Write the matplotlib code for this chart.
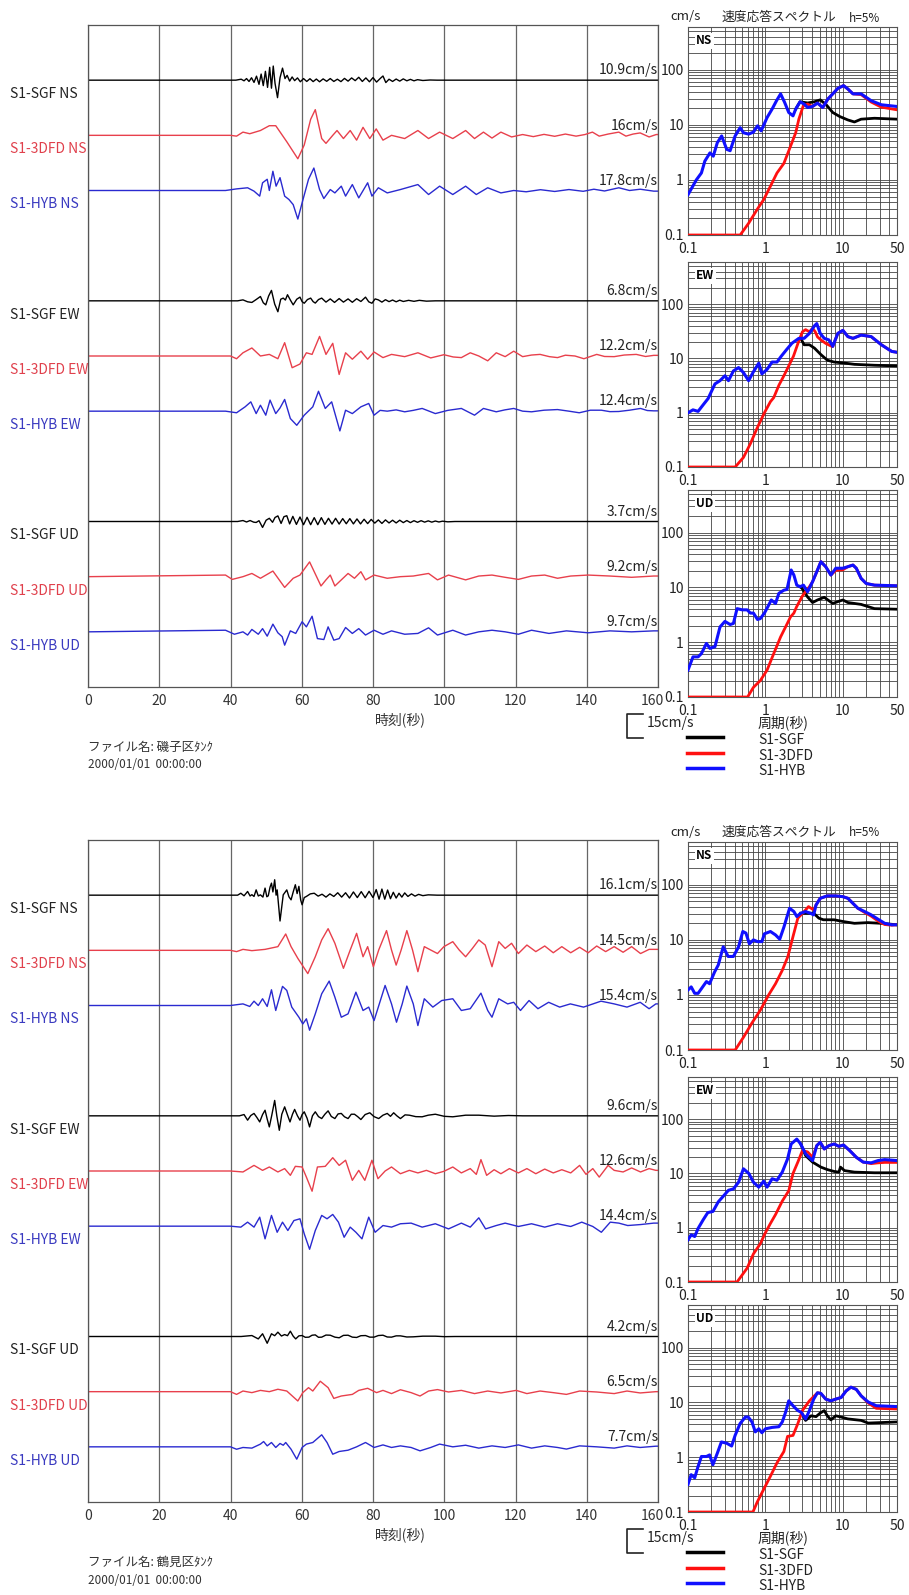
import matplotlib
matplotlib.use("Agg")
import matplotlib.pyplot as plt
from matplotlib.lines import Line2D
from matplotlib.transforms import ScaledTranslation

plt.rcParams['font.family'] = ['Noto Sans CJK JP', 'DejaVu Sans']

# ---- waveform data: (time s, velocity cm/s) ----
p1_sgf_ns = [(41.5,0),(43,0.6),(43.8,-0.4),(44.5,1.0),(45.2,-0.8),(45.9,1.5),(46.6,-1.4),(47.3,2.5),(48,-2.6),(48.6,3.8),(49.2,-3.4),(49.8,5.5),(50.4,-4.5),(51,8.0),(51.5,-5.0),(52,8.8),(52.5,-2.0),(53.2,-10.9),(53.9,1.5),(54.6,7.5),(55.3,1.0),(55.9,3.0),(56.6,-0.6),(57.3,2.0),(58,-0.3),(58.8,1.4),(59.6,-1.0),(60.5,1.0),(61.4,-0.8),(62.3,0.9),(63.2,-0.9),(64.1,0.7),(65,-1.0),(66,0.8),(67,-0.7),(68,1.0),(69,-0.8),(70,0.6),(71,-0.9),(72,1.1),(73,-0.6),(74,1.4),(75,-0.3),(76,1.8),(77,-0.8),(78,1.4),(79,-1.0),(80,1.6),(81,-1.2),(82,1.0),(82.8,2.6),(83.6,-1.5),(84.5,0.6),(85.5,-0.8),(86.5,0.7),(87.5,-0.6),(88.5,0.8),(89.5,-0.4),(90.5,0.5),(91.5,-0.4),(92.5,0.3),(94,-0.2),(96,0.1),(98,0)]
p1_fd_ns = [(40,0),(41.7,-0.5),(43.5,2),(45.4,1),(48.4,3),(50.9,6),(52.7,6),(55.8,-4),(58.9,-14.6),(60.7,-6),(62.5,10),(63.8,16),(65.6,-2),(66.8,-5),(68.7,0),(69.9,3),(71.7,-2),(73.6,3),(75.4,-3),(77.2,5),(79.1,-2),(80.9,4),(82.8,-3),(85.2,0),(88.9,-2),(92.6,3),(95.6,-2),(98.7,2),(102.4,-2),(106,3),(108.5,-2),(111,2),(113.4,-1.7),(115.9,2),(118.9,-1),(122,0.5),(125,-0.8),(128,0.6),(131,-0.6),(134,0.8),(137,-0.5),(139.5,0.5),(141.6,2),(143.5,-0.5),(146,0.8),(149,2),(151,-0.5),(153,0.8),(155,1.5),(157.5,-1),(159.5,0.5)]
p1_hyb_ns = [(38.6,0),(41.7,1),(44.8,1.7),(46.6,-0.4),(48.2,-3.5),(49,4.8),(50.3,7),(50.9,0),(51.9,12),(52.8,2.7),(53.9,8),(55.2,-3.5),(56.4,-5.6),(57.6,-8.8),(58.9,-17.8),(60.1,-7.7),(61.9,7),(63.4,14),(65,0.6),(66.2,-5),(68,0.6),(69.3,-1.5),(71.1,2.7),(72.3,-3.5),(74.2,3.7),(76,-4.6),(78.5,4.8),(79.7,-3.5),(81.5,1.7),(84,-1.5),(87.7,0.6),(92.6,3.7),(95.6,-2.5),(98.7,2.7),(102.4,-2.5),(106,2.7),(109,-2.5),(112.2,1.7),(115.9,-1.5),(119.5,0),(123,-0.8),(127,0.5),(131,-0.6),(135,0.6),(139,-0.5),(142,0.8),(145,-0.3),(149,1.7),(152,0),(155,0.8),(158.8,-0.4)]
p1_sgf_ew = [(42,0),(43.5,0.6),(44.8,-0.6),(46,-1.0),(47.2,0.8),(48.4,2.7),(49.2,-1.2),(49.9,-2.5),(50.7,3.0),(51.5,6.5),(52.4,-2.0),(53.3,-6.8),(54.1,1.0),(54.8,1.7),(55.4,0.5),(56,3.8),(56.8,0.5),(57.6,-2.5),(58.6,1.0),(59.5,2.3),(60.1,-0.5),(60.7,-1.5),(61.6,0.8),(62.5,1.7),(63.2,-0.5),(63.8,-1.4),(64.7,0.8),(65.6,1.7),(66.8,-0.8),(68,1.2),(69.2,-1.0),(70.5,1.4),(71.7,-0.8),(73,1.2),(74.2,-0.9),(75.4,1.3),(76.6,-0.4),(77.9,2.3),(78.8,-0.6),(79.7,-1.5),(80.6,1.2),(81.5,0.6),(82.5,-0.8),(83.5,0.7),(84.5,-0.5),(85.5,0.5),(86.5,-0.6),(87.5,0.4),(88.5,-0.4),(90,0.3),(91.5,-0.3),(93,0.3),(95,-0.2),(97.5,0)]
p1_fd_ew = [(40,0),(41.7,-1.7),(43.5,2),(46,5),(48.4,0),(50.9,1),(53.3,-1.7),(55.2,8.3),(57.3,-7.3),(59.5,-5),(61.3,2),(62.9,1),(65,12.2),(66.8,1),(68.7,7.9),(70.5,-11.5),(72.3,2),(74.2,-2),(76.6,3),(78.5,-2),(80.3,2.5),(82.8,-1),(85.2,1),(88.9,-0.4),(92.6,2),(96.2,-1.2),(99.9,0.8),(102.5,-0.6),(104.8,-1),(107.3,2),(109.7,0),(112.2,-3),(114.6,2),(117.1,-0.4),(119.5,3),(122,-0.4),(124.5,0.6),(126.9,1),(129.5,-0.4),(131.8,-1),(134,0.5),(136.7,0),(139.2,-1.7),(142.8,1),(145,-0.3),(147.7,-0.4),(150.5,0.6),(153.9,1),(156.5,-0.3),(158.8,0.4)]
p1_hyb_ew = [(38.6,0),(41.7,-1),(44.1,2.7),(45.7,5.8),(47.2,-1.5),(48.4,3.7),(49.9,-2.5),(51.1,6.9),(52.7,-1.5),(53.9,2),(55.2,7.3),(56.8,-4.6),(58.6,-8.8),(60.7,-2.5),(63.1,2.7),(64.7,12.4),(66.6,1.7),(68.4,5.8),(70.7,-12.3),(72.3,0.6),(74.2,-1.5),(76.6,2.7),(78.8,4.8),(80.3,-2.5),(82,0.5),(84,0),(86.5,0.8),(88.9,-0.4),(91.3,0.5),(93.8,1.7),(97.5,-1.5),(101,0.5),(104.8,1.7),(108.5,-2.5),(111,1.7),(114.6,-0.4),(117,0.8),(119.5,1.7),(122,0),(124.5,-0.4),(128,0.6),(131.8,1),(135,0),(137.9,-1),(141,0.6),(144.1,0.6),(146.5,-0.3),(149,-0.2),(152,0.6),(155.1,1.7),(157,0.4),(158.8,0.2)]
p1_sgf_ud = [(42,0),(43.5,0.6),(44.5,-0.3),(45.5,0.6),(46.5,-0.4),(47.2,-0.6),(48,0.5),(49,-3.7),(50,0.8),(50.9,2.0),(51.8,-0.5),(52.5,2.5),(53.3,3.5),(54.2,-1.2),(55,3.0),(55.8,3.6),(56.6,-1.5),(57.5,3.2),(58.5,-1.8),(59.5,2.8),(60.5,-2.0),(61.5,2.6),(62.5,-2.0),(63.5,2.4),(64.5,-2.0),(65.5,2.4),(66.5,-1.8),(67.5,2.0),(68.5,-1.6),(69.5,2.0),(70.5,-1.6),(71.5,1.8),(72.5,-1.4),(73.5,1.8),(74.5,-1.5),(75.5,1.6),(76.5,-1.5),(77.5,1.4),(78.5,-1.3),(79.5,1.3),(80.5,-1.0),(81.5,1.0),(82.5,-1.2),(83.5,1.0),(84.5,-0.9),(85.5,0.8),(86.5,-0.9),(87.5,0.8),(88.5,-0.7),(89.5,0.6),(90.5,-0.7),(91.5,0.5),(92.5,-0.5),(93.5,0.5),(94.5,-0.4),(95.5,0.4),(96.5,-0.4),(97.5,0.3),(98.5,-0.3),(99.5,0.2),(101,-0.2),(103,0)]
p1_fd_ud = [(38.6,1),(40.5,-1.7),(43.5,0),(46,2),(48.4,-1),(51.9,3.5),(55.2,-6.7),(57.6,-1),(59.5,1),(62.2,9.2),(65.4,-5.8),(66.8,-2),(68,1),(69.3,-5.8),(71.1,-2),(73,2),(74.8,-1),(76.6,3.1),(77.9,-2),(80.3,1),(84,-1),(87.7,0),(91.3,0.4),(95.6,2),(98.1,-2),(101.2,1),(106,-2),(109.7,0.4),(113.4,1),(117.1,-0.4),(120.8,-1.7),(124.5,0.4),(128.2,1),(131.8,-1),(135.5,0.4),(140.4,1),(146.5,0.4),(152.6,-0.4),(158.8,0.4)]
p1_hyb_ud = [(38.6,1),(41.1,-1.5),(43.5,0),(44.8,-2),(46,1.5),(47.8,-1.5),(49,2),(50.3,-2.7),(51.9,4.8),(53.3,-0.6),(54.5,-3),(55.2,-8.3),(56.8,0.6),(58.3,-1),(60.1,6.3),(61.3,3.1),(62.9,9.7),(64.4,-4.2),(66.2,-4.8),(67.4,3.1),(69,-5.2),(70.5,-4.2),(72.3,2.7),(74.2,-1),(76,2),(77.9,-2),(80.3,1),(82.8,-1.5),(85.2,0.6),(88.9,-1.5),(92.6,-1),(95.6,2.5),(98.1,-2),(102.4,1),(106,-2),(109.7,0),(113.4,1),(117.1,0),(120.8,-1.5),(124.5,1),(129.4,-1),(134.3,0.6),(140.4,-0.6),(146.5,0.6),(152.6,0),(158.8,0.6)]

p2_sgf_ns = [(42,0),(42.9,1.2),(43.8,-0.4),(44.8,2.3),(45.5,-0.5),(46,0.3),(46.6,-0.8),(47.2,3.3),(47.8,-0.5),(48.4,0.2),(49.1,-1.2),(49.7,4.4),(50.2,-1.0),(50.6,-0.4),(51.1,5),(51.5,7.5),(51.9,2),(52.4,9.6),(52.8,0),(53.1,3.3),(53.9,-16.1),(54.8,0.2),(55.8,3.3),(56.4,-1),(57,-2.9),(57.6,2),(58.2,6.5),(58.7,1),(59.2,5.5),(59.7,-3),(60.1,-6),(60.7,-1.5),(61.3,-0.8),(62.4,0.8),(63.5,1.2),(64.6,-0.6),(65.7,0.6),(66.8,-1.2),(67.9,0.8),(69,-0.8),(70.1,1.5),(71.2,-1.2),(72.3,1.5),(73.4,-1.8),(74.5,2.0),(75.6,-1.5),(76.7,2.2),(77.8,-1.6),(78.9,2.4),(80,-1.5),(80.9,3.5),(81.7,-2.5),(82.5,3.8),(83.3,-2.5),(84.1,3.2),(84.9,-2.2),(85.7,1.8),(86.5,-1.8),(87.3,1.2),(88.1,-1.2),(88.9,1.4),(89.8,-0.8),(90.8,0.8),(91.8,-0.6),(92.8,0.5),(94,-0.3),(95.5,0.2),(98,0)]
p2_fd_ns = [(40,0),(41.7,-0.8),(43.5,0.6),(46,-0.2),(49.7,0.6),(53.3,2.3),(55.5,10.2),(57,2.3),(58.9,-5),(61.7,-14.5),(63.8,-4),(65.6,6.5),(67.4,13.5),(69.3,4.4),(71.7,-11.2),(73.6,0.2),(75.4,10.6),(77.2,-4),(78.5,2.3),(80.1,-10.2),(81.6,0.2),(83.8,12.3),(85.2,0.2),(86.5,-9.2),(87.9,0.2),(89.5,12.3),(91.1,0.2),(92.6,-13.3),(94.4,2.3),(96.2,0.2),(98.1,-2),(99.9,2.3),(102.4,5.4),(104.2,0.2),(106,-4),(107.9,1.2),(109.7,6.5),(111.5,3.3),(113.4,-10.2),(115.3,5.4),(117.1,1.2),(118.9,4.4),(120.8,-2),(123.2,3.3),(125.7,-0.8),(128.2,2.7),(130.6,-1.5),(133,2.3),(135.5,-1.5),(138,1.9),(140.4,-1.5),(142.8,2.7),(145.3,-0.8),(147.7,2.3),(150.2,-1.2),(152.6,2.3),(155.1,-2),(157.5,0.6),(159.4,0.6)]
p2_hyb_ns = [(40,0),(43.5,1),(45.4,-0.6),(46.6,2.7),(47.8,0),(49,4.2),(50.3,-0.6),(51.5,9.8),(52.7,-3.1),(54.6,11.9),(55.8,9.4),(57.2,-1),(59.2,-7.3),(60.3,-11.5),(61.3,-8.3),(62.2,-15.4),(63.8,-5.2),(65.6,7.3),(67.7,15.2),(69.3,5.2),(71.1,-7.3),(73,-5.2),(75.2,8.3),(77.2,-3.1),(78.8,-1),(80.3,-9.4),(83.4,12.5),(85.2,1),(86.6,-10.4),(88.2,1),(89.5,12.1),(91.3,1),(92.6,-12.5),(94.4,4.2),(96.8,-1),(99.3,3.1),(102.4,4.2),(104.8,-3.1),(107.3,-2),(110.3,7.7),(112.2,-3.1),(113.4,-7.3),(115.3,4.2),(117.8,1),(119.5,2),(121.4,-3.1),(123.8,3.1),(126.3,-2),(129.3,2),(132.4,-1),(135.4,1),(139.1,-1),(144,2.7),(147.7,1),(151.3,-1),(155,2),(157.5,-2),(159.4,1)]
p2_sgf_ew = [(42.5,0),(43.8,0.8),(44.8,-2.7),(45.7,0.2),(46.6,1.5),(47.4,-1.0),(48.2,-3.8),(49,0.8),(49.7,3.5),(50.3,-2.0),(50.9,-6.9),(51.6,0.5),(52.4,9.6),(53,0),(53.7,-9.0),(54.4,1.0),(55.2,5.6),(56,0.5),(56.7,-3.8),(57.4,1.0),(58,4.0),(58.8,0),(59.5,-2.7),(60.1,0.8),(60.7,2.5),(61.5,-1.5),(62.2,-6.9),(63,0),(63.8,2.5),(64.7,-0.5),(65.6,-1.7),(66.5,1.0),(67.4,3.1),(68.3,-0.4),(69.3,-1.7),(70.2,1.2),(71.1,1.5),(72,-0.6),(73,-1.7),(73.9,1.0),(74.8,1.0),(75.7,-0.5),(76.6,-2.3),(77.8,0.8),(79.1,1.9),(80.3,-0.5),(81.6,-1.7),(82.8,0.4),(84,1.5),(84.9,-0.3),(85.8,1.9),(86.7,0),(87.7,-1.7),(89,0.6),(90.2,0.4),(92,-0.5),(93.8,-0.6),(95.5,0.4),(97.5,1.0),(100,-0.3),(102.4,-0.6),(106,0.4),(109.7,0.4),(114,-0.2),(118,0.2),(122,0)]
p2_fd_ew = [(40,0),(43.5,-0.6),(46.6,3.5),(49,0.4),(50.9,2.5),(53.3,-0.6),(55.2,1.5),(56.8,-2.7),(58.2,2.9),(60.1,2.5),(61.3,-3.8),(62.9,-12.6),(64.4,2.5),(66.6,2.9),(68.7,8.3),(70.5,3.5),(72.3,6.7),(74.2,-5.8),(76,0.4),(77.7,-5.8),(79.7,6.7),(81.4,-4.8),(83.4,0),(85.2,2.5),(87.7,-1.7),(90.2,0.4),(92.6,-1.2),(95,0.4),(97.5,-1.7),(99.9,-0.2),(102.4,2.5),(104.8,-1.2),(107.3,1.5),(109,-2.1),(110.3,7.1),(111.9,-2.7),(114,0.8),(115.9,-1.7),(118.3,1.5),(120.8,-1.2),(123.2,1.5),(125.7,-1.7),(128.2,1.2),(130.6,-1.2),(133,0.8),(135.5,-1.2),(138,3.5),(139.8,-2.1),(141.7,1.5),(143.5,-3.8),(146,3.5),(147.7,0.4),(150.2,-0.6),(152.6,1.9),(155.1,-0.6),(157.5,1.5),(159.4,0.4)]
p2_hyb_ew = [(40,0),(42.9,-0.6),(44.8,2.5),(46.6,-0.6),(48.2,5.6),(49.7,-7.9),(51.5,6.7),(53.1,-3.8),(54.6,2.5),(56.1,-2.7),(57.8,3.5),(59.5,4.6),(60.7,-4.8),(62.2,-14.4),(63.8,-2.7),(65.6,6.7),(67.1,4.6),(68.7,7.3),(70.3,2.5),(71.9,-6.9),(73.6,-0.6),(75.2,-3.8),(76.9,-7.9),(78.8,5.6),(80.6,-3.8),(82.8,0.4),(85.2,-0.6),(87.7,1.5),(90.7,1.9),(93.8,-0.6),(97.5,1.5),(101.2,-1.7),(104.8,1.9),(107.3,-0.6),(109.7,5.2),(111.6,-1.7),(114.6,0.4),(117.1,1.9),(120.8,-0.2),(124.5,1.5),(128.2,-0.6),(131.8,1.5),(135.5,-0.2),(138.6,2.5),(141.7,-0.2),(144.1,-3.8),(146.6,2.5),(149,1.9),(151.5,0.4),(155.1,1),(158.8,1.9)]
p2_sgf_ud = [(43,0),(46,0.6),(47.8,-1.5),(49,1.7),(50.3,-4.2),(51.5,1.7),(52.4,0.5),(53.3,2.7),(54.3,0.3),(55.2,1.2),(56,0.5),(56.8,3.3),(57.6,0.2),(58.3,-1.5),(59.2,0.4),(60.1,0.6),(61,-0.5),(62,-0.4),(62.9,0.8),(63.8,1.0),(64.7,-0.5),(65.6,-0.4),(66.8,0.9),(68,0.8),(69.3,-0.4),(70.5,-0.8),(71.7,0.7),(73,0.8),(74.2,-0.4),(75.4,-0.6),(76.6,0.5),(77.9,0.6),(79.1,-0.4),(80.3,-0.4),(81.5,0.6),(82.8,0.8),(84,-0.3),(85.2,-0.4),(86.5,0.4),(87.7,0.4),(89.5,-0.3),(91.3,-0.2),(94,0.2),(97.5,0.2),(100,-0.1),(103,0)]
p2_fd_ud = [(40,0),(41.7,-1.7),(43.5,0.4),(46,-0.6),(48.4,0.8),(50.9,0),(53.3,1.5),(55.8,0.4),(58.9,-5.8),(60.3,-0.6),(61.9,2.5),(63.1,0.4),(65.2,6.5),(67.4,2.5),(69,-4.2),(71.1,-2.7),(74.2,-1.7),(76,0.8),(78.5,2.1),(81,-0.6),(82.8,0.8),(85.2,-1.2),(87.7,1.2),(90.7,-0.6),(93.2,-2.7),(95.6,0.4),(98.1,1.3),(101.2,-0.2),(104.8,0.8),(108.5,-1.2),(112.2,0.4),(115.9,-0.8),(120.2,0.8),(123.2,-1.2),(126.9,0.4),(130.6,-0.6),(134.3,-1.7),(138,0.4),(142.8,-0.2),(147.7,-1.2),(151.3,0.4),(155,-0.8),(159.4,0)]
p2_hyb_ud = [(40,0),(41.7,-1.5),(43.5,-0.4),(46,-0.8),(48.4,1.7),(49.3,3.3),(50.3,0.6),(51.5,2.7),(52.7,-0.4),(53.9,2.1),(54.8,1.0),(55.5,2.7),(57,-1.5),(58.6,-7.7),(60.1,-0.4),(61.3,1.7),(63.1,2.7),(65.6,7.5),(67.1,2.7),(68.7,-4.6),(70.5,-2.9),(73,-2.1),(75.4,0),(77.9,2.7),(80.3,-0.4),(82.8,1.2),(85.2,-0.4),(87.7,0.6),(90.7,-0.4),(93.2,-2.5),(96.2,-0.4),(98.7,1.7),(102.4,0),(106,1.0),(109.7,-0.8),(113.4,0.6),(117.1,-0.4),(120.8,1.2),(124.5,-0.8),(128.2,0.6),(131.8,-0.4),(134.3,-1.4),(138,0.6),(142.8,0),(147.7,-0.8),(151.3,0.6),(155,-0.4),(159.4,0.4)]

# peak values printed beside each trace
p1_peaks = ['10.9', '16', '17.8', '6.8', '12.2', '12.4', '3.7', '9.2', '9.7']
p2_peaks = ['16.1', '14.5', '15.4', '9.6', '12.6', '14.4', '4.2', '6.5', '7.7']

# ---- velocity response spectra h=5%: (period s, cm/s) ----
s1_ns_sgf = [(2.46,19.4),(2.8,26.3),(3.5,25),(4.3,26.3),(5.1,28.5),(6.1,23.2),(7.4,16.8),(9.1,14.2),(11.6,12.3),(14.1,11.3),(17.2,12.7),(25.6,13.2),(50,12.7)]
s1_ns_fd = [(0.1,0.1),(0.472,0.1),(0.606,0.163),(0.78,0.29),(0.95,0.44),(1.16,0.77),(1.41,1.34),(1.73,2.0),(2.11,4.1),(2.46,7.2),(2.7,12.7),(3.08,22.2),(3.5,23.9),(4.05,21.6),(4.7,24.9),(5.5,20.7),(6.4,29.5),(7.4,36.6),(8.6,46),(10.2,51.7),(11.6,44.9),(13.5,36.6),(17.2,35.5),(23.2,26),(31.4,21),(50,18.8)]
s1_ns_hyb = [(0.1,0.54),(0.128,1.0),(0.149,1.34),(0.165,2.2),(0.192,3.1),(0.212,2.7),(0.239,4.75),(0.272,6.3),(0.316,3.6),(0.35,3.4),(0.406,6.3),(0.472,8.9),(0.52,7.2),(0.606,6.8),(0.70,7.4),(0.79,9.6),(0.88,7.8),(1.05,13.6),(1.22,19.4),(1.39,27.5),(1.57,36.6),(1.77,25.6),(2.0,16.8),(2.27,14.6),(2.46,19.4),(2.8,26.3),(3.16,23.9),(3.5,20.7),(4.05,21.6),(4.7,24.9),(5.5,20.7),(6.4,29.5),(7.4,36.6),(8.6,46),(10.2,51.7),(11.6,44.9),(13.5,36.6),(17.2,36.6),(23.2,27.5),(31.4,23.2),(50,21.6)]
s1_ew_sgf = [(2.85,23.5),(3.16,17.9),(3.7,17.9),(4.3,15.5),(5.2,11.8),(6.3,9.3),(7.7,8.6),(10,8.3),(14.1,7.8),(25.6,7.5),(50,7.3)]
s1_ew_fd = [(0.1,0.1),(0.407,0.1),(0.52,0.15),(0.64,0.27),(0.78,0.52),(0.97,1.0),(1.16,1.6),(1.28,1.9),(1.49,3.2),(1.73,4.8),(2.0,7.3),(2.3,11),(2.63,19),(3.0,31),(3.3,34),(3.7,31),(4.06,36),(4.4,31),(4.7,25),(5.2,22),(6.0,19),(7.0,17),(7.4,16.7),(8.6,29),(10,33),(11.6,25.3),(13.5,23.5),(17.2,27),(23.2,25.3),(31.4,17.9),(42.7,13.5),(50,13.0)]
s1_ew_hyb = [(0.1,1.0),(0.116,1.13),(0.135,1.06),(0.157,1.4),(0.182,1.83),(0.223,3.4),(0.259,3.9),(0.30,4.8),(0.333,3.9),(0.386,5.9),(0.45,6.8),(0.52,5.5),(0.606,3.9),(0.69,5.5),(0.82,8.2),(0.9,5.2),(1.05,6.3),(1.22,8.6),(1.41,8.6),(1.6,11.0),(1.87,14.5),(2.2,19.1),(2.7,23.5),(3.16,23.5),(3.7,29),(4.3,40),(4.6,44),(5.1,29),(5.75,23.5),(6.6,22),(7.4,16.7),(8.6,29),(10,33),(11.6,25.3),(13.5,23.5),(17.2,27),(23.2,25.3),(31.4,17.9),(42.7,13.5),(50,13.0)]
s1_ud_sgf = [(2.8,10.3),(2.97,9.6),(3.5,6.7),(4.06,5.3),(4.7,5.9),(5.75,6.6),(6.3,6.0),(7.4,5.1),(8.6,5.5),(10,5.9),(11.6,5.3),(17.2,4.9),(25.6,4.1),(50,4.0)]
s1_ud_fd = [(0.1,0.1),(0.588,0.1),(0.70,0.15),(0.86,0.2),(1.05,0.31),(1.28,0.62),(1.57,1.25),(1.82,1.9),(2.11,2.9),(2.33,3.4),(2.52,4.4),(2.97,6.8),(3.4,8.9),(3.7,10.3),(4.06,12.7),(4.7,20.8),(5.2,29.5),(6.0,23.9),(7.0,16.8),(8.1,20.5),(10,21),(11.6,23.9),(13.5,25.6),(14.9,22.4),(17.2,14.6),(20,11.8),(25.6,11.0),(50,10.7)]
s1_ud_hyb = [(0.1,0.31),(0.116,0.54),(0.135,0.54),(0.149,0.62),(0.173,0.95),(0.192,0.77),(0.223,0.83),(0.259,1.9),(0.30,2.4),(0.35,2.1),(0.386,2.2),(0.43,4.1),(0.50,3.9),(0.58,3.9),(0.64,3.4),(0.70,3.4),(0.79,2.6),(0.86,2.7),(0.97,3.4),(1.07,4.4),(1.19,5.9),(1.35,5.1),(1.49,7.8),(1.73,8.9),(1.9,9.2),(2.15,20.8),(2.33,16.8),(2.54,11),(2.8,10.3),(3.1,11),(3.5,8.3),(4.06,12.7),(4.7,20.8),(5.2,29.5),(6.0,23.9),(7.0,16.8),(8.1,22.4),(10,22.4),(11.6,23.9),(13.5,25.6),(14.9,22.4),(17.2,14.6),(20,11.8),(25.6,11.0),(50,10.7)]

s2_ns_sgf = [(2.85,30.5),(3.3,30.5),(4.2,30.5),(4.9,24.8),(5.6,23.2),(7.7,23.2),(10,21.6),(14.1,20),(21,20.6),(31.4,20),(50,18.8)]
s2_ns_fd = [(0.1,0.1),(0.407,0.1),(0.52,0.17),(0.67,0.31),(0.86,0.53),(1.1,1.0),(1.35,1.6),(1.65,2.8),(1.95,5),(2.27,11.5),(2.62,24.8),(3.16,32.7),(3.6,40.3),(4.2,35),(4.5,43),(5.1,57),(6.3,63),(8.1,63),(10,61),(11.6,57),(13.5,46),(15.6,37.6),(19.1,31.5),(23.2,27),(28.5,22),(34.7,19),(42.7,18.5),(50,18.8)]
s2_ns_hyb = [(0.1,1.23),(0.11,1.4),(0.122,1.07),(0.135,1.07),(0.149,1.3),(0.173,1.75),(0.19,1.6),(0.22,2.6),(0.246,3.5),(0.285,7.5),(0.33,5),(0.386,5),(0.45,7.5),(0.51,14.2),(0.56,13.3),(0.62,8.5),(0.70,10),(0.79,9.3),(0.9,9.3),(0.97,12.9),(1.16,14.2),(1.35,12.3),(1.53,10.3),(1.73,17),(2.05,37.6),(2.33,32.7),(2.54,26.6),(2.85,30.5),(3.3,32.7),(3.8,30.5),(4.2,28.5),(4.5,43),(5.1,57),(6.3,63),(8.1,63),(10,61),(11.6,57),(13.5,46),(15.6,37.6),(19.1,32.7),(23.2,28.5),(28.5,23.7),(34.7,20),(42.7,18.8),(50,18.8)]
s2_ew_sgf = [(2.85,35),(3.3,21.4),(4.06,16.2),(5.2,13.1),(6.3,11.8),(7.7,10.9),(8.9,10.6),(9.3,13.1),(10.5,11.3),(14.1,10.6),(25.6,10.3),(50,10.3)]
s2_ew_fd = [(0.1,0.1),(0.43,0.1),(0.58,0.18),(0.70,0.33),(0.86,0.51),(0.99,0.79),(1.16,1.2),(1.35,1.75),(1.65,3.1),(2.0,4.8),(2.27,10),(2.62,16.2),(3.0,26.3),(3.5,25),(4.06,20),(4.6,32.6),(5.1,37.5),(5.75,28.3),(6.6,32.6),(7.7,35),(8.9,31.6),(10.2,33.5),(12.3,26.3),(14.9,19.9),(18.3,16.2),(23.2,15.2),(28.5,15.7),(34.7,16),(50,16)]
s2_ew_hyb = [(0.1,0.6),(0.11,0.74),(0.122,0.69),(0.135,0.97),(0.157,1.4),(0.18,1.9),(0.21,2.0),(0.246,3.0),(0.285,3.8),(0.333,4.9),(0.386,5.2),(0.45,6.9),(0.52,12.2),(0.61,10),(0.70,6.9),(0.82,5.6),(0.95,7.2),(1.05,5.6),(1.22,8.0),(1.41,7.5),(1.65,10.6),(1.93,18.5),(2.15,35),(2.54,43),(2.85,35),(3.3,23),(4.06,17.3),(4.6,32.6),(5.1,37.5),(5.75,28.3),(6.6,32.6),(7.7,35),(8.9,31.6),(10.2,33.5),(12.3,26.3),(14.9,19.9),(18.3,16.2),(23.2,15.7),(28.5,17.3),(34.7,18),(50,17.3)]
s2_ud_sgf = [(2.9,6.6),(3.3,4.7),(3.9,5.7),(4.5,5.5),(5.1,6.4),(5.75,7.1),(6.3,5.7),(7.0,4.8),(8.1,5.7),(9.5,5.4),(11.6,5.0),(17.2,4.7),(21.2,4.2),(50,4.4)]
s2_ud_fd = [(0.1,0.1),(0.69,0.1),(0.78,0.15),(0.95,0.26),(1.16,0.45),(1.41,0.79),(1.73,1.27),(1.93,2.4),(2.27,2.5),(2.62,4.1),(3.0,7.1),(3.7,10.7),(4.5,14.1),(4.7,15),(5.2,14.6),(6.0,11.5),(7.0,10.7),(8.1,11.5),(9.5,12.3),(11,16.2),(12.7,19),(14.9,17.3),(17.2,13.2),(21.2,9.8),(27,7.8),(50,7.6)]
s2_ud_hyb = [(0.1,0.32),(0.11,0.48),(0.122,0.42),(0.135,0.68),(0.149,1.03),(0.173,1.03),(0.19,1.1),(0.21,0.73),(0.24,1.2),(0.27,1.9),(0.316,1.8),(0.366,1.6),(0.406,2.5),(0.47,4.1),(0.55,5.4),(0.6,5.4),(0.67,4.4),(0.74,2.9),(0.82,3.3),(0.9,2.8),(1.0,3.3),(1.22,3.5),(1.49,3.6),(1.65,4.4),(1.82,6.6),(2.0,10.7),(2.27,8.7),(2.62,7.1),(2.9,6.6),(3.3,5.0),(3.7,7.1),(4.2,11.5),(4.7,15),(5.2,14.6),(6.0,11.5),(7.0,10.7),(8.1,11.5),(9.5,12.3),(11,16.2),(12.7,19),(14.9,17.3),(17.2,13.2),(21.2,10.2),(27,8.7),(50,8.4)]

models = ['S1-SGF', 'S1-3DFD', 'S1-HYB']
comps = ['NS', 'EW', 'UD']
file_names = ['磯子区ﾀﾝｸ', '鶴見区ﾀﾝｸ']
date_text = '2000/01/01  00:00:00'

trace_col = ['black', '#e8404c', '#2a2ad0']
text_col = ['#222222', '#e0404c', '#3a3ac0']
spec_col = ['black', '#ff1010', '#1010ff']

W, H = 909, 1595
fig = plt.figure(figsize=(W / 100, H / 100), dpi=100)


def box(l, t, r, b):
    return [l / W, 1 - b / H, (r - l) / W, (b - t) / H]


def ftext(x, y, s, **kw):
    fig.text(x / W, 1 - y / H, s, va='center', **kw)


def fline(xs, ys, **kw):
    fig.add_artist(Line2D([x / W for x in xs], [1 - y / H for y in ys],
                          transform=fig.transFigure, **kw))


K = 1.6 / 55.0  # trace offset units per cm/s
slots = [1, 2, 3, 5, 6, 7, 9, 10, 11]

panels = [
    dict(dy=0, waves=[p1_sgf_ns, p1_fd_ns, p1_hyb_ns, p1_sgf_ew, p1_fd_ew, p1_hyb_ew,
                      p1_sgf_ud, p1_fd_ud, p1_hyb_ud],
         peaks=p1_peaks,
         spec=[[s1_ns_sgf, s1_ns_fd, s1_ns_hyb], [s1_ew_sgf, s1_ew_fd, s1_ew_hyb],
               [s1_ud_sgf, s1_ud_fd, s1_ud_hyb]]),
    dict(dy=815, waves=[p2_sgf_ns, p2_fd_ns, p2_hyb_ns, p2_sgf_ew, p2_fd_ew, p2_hyb_ew,
                        p2_sgf_ud, p2_fd_ud, p2_hyb_ud],
         peaks=p2_peaks,
         spec=[[s2_ns_sgf, s2_ns_fd, s2_ns_hyb], [s2_ew_sgf, s2_ew_fd, s2_ew_hyb],
               [s2_ud_sgf, s2_ud_fd, s2_ud_hyb]]),
]

for pi, p in enumerate(panels):
    dy = p['dy']
    ax = fig.add_axes(box(88, 25 + dy, 658, 687 + dy))
    ax.set_xlim(0, 160)
    ax.set_ylim(12, 0)
    ax.set_xticks(range(0, 161, 20))
    ax.set_yticks([])
    ax.tick_params(axis='x', length=0, pad=5, labelsize=10, colors='#333333')
    last = ax.get_xticklabels()[-1]
    last.set_transform(last.get_transform() + ScaledTranslation(-6 / 100, 0, fig.dpi_scale_trans))
    ax.grid(axis='x', color='#666666', lw=0.9)
    for sp in ax.spines.values():
        sp.set_color('#555555')
        sp.set_linewidth(0.9)

    for k, data in enumerate(p['waves']):
        m = k % 3
        c = k // 3
        t = [0] + [d[0] for d in data] + [160]
        v = [0] + [d[1] for d in data] + [data[-1][1]]
        ax.plot(t, [slots[k] - vv * K for vv in v], color=trace_col[m], lw=1.0)
        ax.annotate(f'{models[m]} {comps[c]}', xy=(0, slots[k]),
                    xycoords=('axes fraction', 'data'), xytext=(-56, -10),
                    textcoords='offset points', ha='left', va='center',
                    fontsize=10, color=text_col[m], annotation_clip=False)
        ax.annotate(p['peaks'][k] + 'cm/s', xy=(160, slots[k]), xytext=(0, 2),
                    textcoords='offset points', ha='right', va='bottom',
                    fontsize=10, color='#222222', annotation_clip=False)

    # response spectra
    spec_box = [(27, 235), (262, 467), (490, 697)]
    for j, (top, bot) in enumerate(spec_box):
        sa = fig.add_axes(box(688, top + dy, 897, bot + dy))
        sa.set_xscale('log')
        sa.set_yscale('log')
        sa.set_xlim(0.1, 50)
        sa.set_ylim(0.1, 600)
        sa.grid(which='both', color='#444444', lw=0.6)
        for m in range(3):
            d = p['spec'][j][m]
            sa.plot([q[0] for q in d], [q[1] for q in d], color=spec_col[m],
                    lw=2.2 if m == 2 else 2.0, zorder=3 + m)
        sa.set_xticks([0.1, 1, 10, 50])
        sa.set_xticklabels(['0.1', '1', '10', '50'])
        sa.set_yticks([0.1, 1, 10, 100])
        sa.set_yticklabels(['0.1', '1', '10', '100'])
        sa.tick_params(which='both', length=0, labelsize=10, colors='#222222')
        sa.tick_params(axis='x', pad=5)
        sa.tick_params(axis='y', pad=3)
        for sp in sa.spines.values():
            sp.set_color('#555555')
        sa.text(0.04, 0.965, comps[j], transform=sa.transAxes, fontsize=8.5,
                fontweight='bold', va='top', ha='left', zorder=10,
                bbox=dict(facecolor='white', edgecolor='none', pad=1))

    ftext(670, 17 + dy, 'cm/s', fontsize=9.5, ha='left', color='#222222')
    ftext(722, 17 + dy, '速度応答スペクトル', fontsize=9.2, ha='left', color='#222222')
    ftext(849, 18 + dy, 'h=5%', fontsize=8.5, ha='left', color='#222222')

    ftext(400, 720 + dy, '時刻(秒)', fontsize=10, ha='center', color='#333333')
    ftext(758, 723 + dy, '周期(秒)', fontsize=10, ha='left', color='#222222')
    for m, yy in enumerate([737, 753, 768]):
        fline([687, 723], [yy + dy, yy + dy], color=spec_col[m], lw=2.5)
        ftext(758, yy + 3 + dy, models[m], fontsize=10, ha='left', color='#222222')

    fline([643, 627, 627, 643], [714 + dy, 714 + dy, 738 + dy, 738 + dy],
          color='#222222', lw=1.2)
    ftext(647, 723 + dy, '15cm/s', fontsize=10, ha='left', color='#222222')

    ftext(88, 747 + dy, 'ファイル名: ' + file_names[pi], fontsize=9, ha='left', color='#333333')
    ftext(88, 765 + dy, date_text, fontsize=8.5, ha='left', color='#333333')

fig.savefig('out.png', dpi=100)
